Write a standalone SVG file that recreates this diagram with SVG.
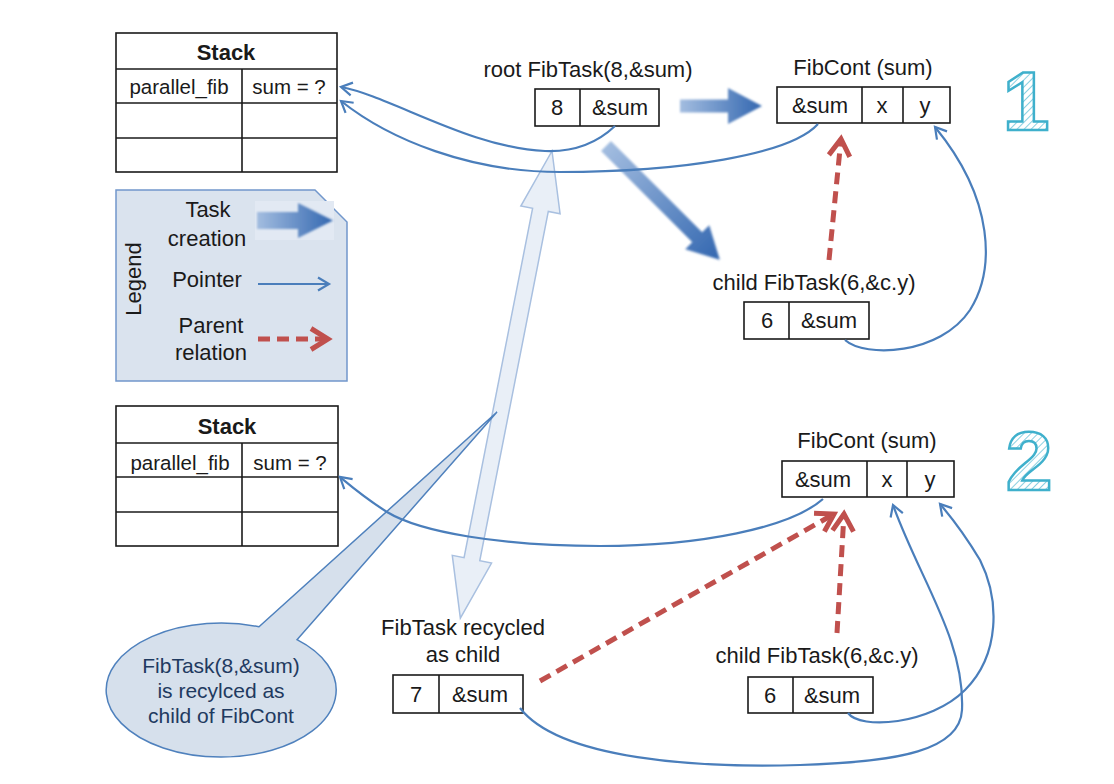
<svg xmlns="http://www.w3.org/2000/svg" width="1114" height="784" viewBox="0 0 1114 784">
<style>
text{font-family:"Liberation Sans",Arial,sans-serif;fill:#1a1a1a}
.t{font-size:22px;text-anchor:middle}
.s{font-size:20.5px;text-anchor:middle}
.h{font-size:22px;font-weight:bold;text-anchor:middle}
.cell{fill:#fff;stroke:#1a1a1a;stroke-width:1.6}
.ln{stroke:#1a1a1a;stroke-width:1.6}
.ptr{fill:none;stroke:#4a7ebb;stroke-width:2.2;marker-end:url(#ph)}
.par{fill:none;stroke:#c0504d;stroke-width:5;stroke-dasharray:12 7;marker-end:url(#rh)}
.num{font-size:84px;font-weight:bold;text-anchor:middle;fill:url(#hatch);stroke:#3fb0cc;stroke-width:2.5}
.cl{font-size:21px;text-anchor:middle;fill:#1f3a60}
</style>
<defs>
<marker id="ph" markerUnits="userSpaceOnUse" markerWidth="20" markerHeight="20" viewBox="-14 -10 16 20" refX="0" refY="0" orient="auto">
<path d="M-11,-6.5 L0,0 L-11,6.5" fill="none" stroke="#4a7ebb" stroke-width="2.2"/>
</marker>
<marker id="rh" markerUnits="userSpaceOnUse" markerWidth="30" markerHeight="30" viewBox="-22 -15 26 30" refX="0" refY="0" orient="auto">
<path d="M-17,-10.5 L0,0 L-17,10.5" fill="none" stroke="#c0504d" stroke-width="5"/>
</marker>
<pattern id="hatch" patternUnits="userSpaceOnUse" width="5" height="5" patternTransform="rotate(45)">
<rect width="5" height="5" fill="#fff"/>
<line x1="0" y1="0" x2="0" y2="5" stroke="#6cc3d8" stroke-width="1.6"/>
</pattern>
<linearGradient id="tg" x1="0" y1="0" x2="1" y2="0">
<stop offset="0" stop-color="#a3bde0"/>
<stop offset="1" stop-color="#3367b0"/>
</linearGradient>
<filter id="soft" x="-10%" y="-10%" width="120%" height="120%">
<feGaussianBlur stdDeviation="0.8"/>
</filter>
</defs>

<!-- stack 1 -->
<g id="stack1">
<rect class="cell" x="116" y="33" width="221" height="139"/>
<line class="ln" x1="116" y1="69" x2="337" y2="69"/>
<line class="ln" x1="116" y1="103" x2="337" y2="103"/>
<line class="ln" x1="116" y1="138" x2="337" y2="138"/>
<line class="ln" x1="242" y1="69" x2="242" y2="172"/>
<text class="h" x="226" y="60">Stack</text>
<text class="s" x="179" y="94">parallel_fib</text>
<text class="s" x="289" y="94">sum = ?</text>
</g>

<!-- stack 2 -->
<g id="stack2">
<rect class="cell" x="116" y="406" width="222" height="140"/>
<line class="ln" x1="116" y1="443" x2="338" y2="443"/>
<line class="ln" x1="116" y1="477" x2="338" y2="477"/>
<line class="ln" x1="116" y1="512" x2="338" y2="512"/>
<line class="ln" x1="242" y1="443" x2="242" y2="546"/>
<text class="h" x="227" y="434">Stack</text>
<text class="s" x="180" y="470">parallel_fib</text>
<text class="s" x="290" y="470">sum = ?</text>
</g>

<!-- legend -->
<g id="legend">
<path d="M116,190 L315,190 L347,222 L347,381 L116,381 Z" fill="#dae3ee" stroke="#7197cc" stroke-width="1.5"/>
<text transform="translate(141,279) rotate(-90)" class="t">Legend</text>
<text class="t" x="208" y="217">Task</text>
<text class="t" x="207" y="246">creation</text>
<rect x="255" y="201" width="79" height="39" fill="#e2e9f3"/>
<polygon points="257,212 298,212 298,203 333,220.5 298,238 298,229 257,229" fill="url(#tg)" filter="url(#soft)"/>
<text class="t" x="207" y="287">Pointer</text>
<line x1="258" y1="284" x2="329" y2="284" class="ptr"/>
<text class="t" x="211" y="333">Parent</text>
<text class="t" x="211" y="360">relation</text>
<line x1="258" y1="339" x2="328" y2="339" class="par"/>
</g>

<!-- big hollow recycle arrow -->
<g id="recycle-arrow">
<polygon transform="translate(552,151) rotate(11.1)" points="0,0 20,60 8,60 8,416 20,416 0,476 -20,416 -8,416 -8,60 -20,60" fill="#e9eff7" stroke="#a9c0e0" stroke-width="1.5"/>
</g>

<!-- callout -->
<g id="callout">
<path d="M259,626.8 L497,412 L297,639.7 A115,67 0 1 1 259,626.8 Z" fill="#d6e0ec" stroke="#4f81bd" stroke-width="1.5"/>
<text class="cl" x="221" y="673">FibTask(8,&amp;sum)</text>
<text class="cl" x="221" y="698">is recylced as</text>
<text class="cl" x="221" y="723">child of FibCont</text>
</g>

<!-- root FibTask -->
<g id="root-task">
<text class="t" x="588" y="77">root FibTask(8,&amp;sum)</text>
<rect class="cell" x="535" y="89" width="124" height="37"/>
<line class="ln" x1="580" y1="89" x2="580" y2="126"/>
<text class="t" x="557" y="115">8</text>
<text class="t" x="620" y="115">&amp;sum</text>
</g>

<!-- FibCont 1 -->
<g id="fibcont1">
<text class="t" x="863" y="75">FibCont (sum)</text>
<rect class="cell" x="777" y="87" width="173" height="36"/>
<line class="ln" x1="862" y1="87" x2="862" y2="123"/>
<line class="ln" x1="903" y1="87" x2="903" y2="123"/>
<text class="t" x="820" y="113">&amp;sum</text>
<text class="t" x="882" y="113">x</text>
<text class="t" x="925" y="113">y</text>
</g>

<!-- child 1 -->
<g id="child1">
<text class="t" x="814" y="290">child FibTask(6,&amp;c.y)</text>
<rect class="cell" x="744" y="302" width="125" height="37"/>
<line class="ln" x1="789" y1="302" x2="789" y2="339"/>
<text class="t" x="767" y="328">6</text>
<text class="t" x="829" y="328">&amp;sum</text>
</g>

<!-- FibCont 2 -->
<g id="fibcont2">
<text class="t" x="867" y="448">FibCont (sum)</text>
<rect class="cell" x="782" y="461" width="172" height="36"/>
<line class="ln" x1="867" y1="461" x2="867" y2="497"/>
<line class="ln" x1="907" y1="461" x2="907" y2="497"/>
<text class="t" x="823" y="487">&amp;sum</text>
<text class="t" x="887" y="487">x</text>
<text class="t" x="930" y="487">y</text>
</g>

<!-- recycled task -->
<g id="recycled">
<text class="t" x="463" y="635">FibTask recycled</text>
<text class="t" x="463" y="662">as child</text>
<rect class="cell" x="393" y="675" width="130" height="38"/>
<line class="ln" x1="439" y1="675" x2="439" y2="713"/>
<text class="t" x="416" y="702">7</text>
<text class="t" x="480" y="702">&amp;sum</text>
</g>

<!-- child 2 -->
<g id="child2">
<text class="t" x="817" y="663">child FibTask(6,&amp;c.y)</text>
<rect class="cell" x="748" y="677" width="125" height="36"/>
<line class="ln" x1="793" y1="677" x2="793" y2="713"/>
<text class="t" x="770" y="703">6</text>
<text class="t" x="832" y="703">&amp;sum</text>
</g>

<!-- stage numbers -->
<g id="num1"><text class="num" x="1026" y="130">1</text></g>
<g id="num2"><text class="num" x="1029" y="490">2</text></g>

<!-- connectors -->
<g id="connectors">
<polygon points="680,99.5 728,99.5 728,88 762,106 728,124 728,112.5 680,112.5" fill="url(#tg)" filter="url(#soft)"/>
<polygon transform="translate(606,146) rotate(45)" points="0,-7 129,-7 129,-17 161,0 129,17 129,7 0,7" fill="url(#tg)" filter="url(#soft)"/>
<path class="ptr" d="M615,126 C595,145 570,152 545,151 C470,148 390,96 341,87"/>
<path class="ptr" d="M818,124 C790,155 680,172 560,172 C470,172 390,140 341,101"/>
<path class="ptr" d="M845,340 C865,358 940,355 970,310 C995,270 995,200 935,127"/>
<path class="par" d="M829,260 L841,139"/>
<path class="ptr" d="M823,499 C790,528 700,546 600,546 C500,546 420,532 387,512 C365,498 352,487 340,477"/>
<path class="ptr" d="M520,708 C560,760 700,768 800,765 C900,762 960,750 962,710 C965,640 920,580 893,505"/>
<path class="ptr" d="M848,713 C860,730 930,725 965,690 C1000,655 1000,600 980,560 C965,535 952,518 940,504"/>
<path class="par" d="M540,681 L834,514"/>
<path class="par" d="M837,633 L844,514"/>
</g>
</svg>
